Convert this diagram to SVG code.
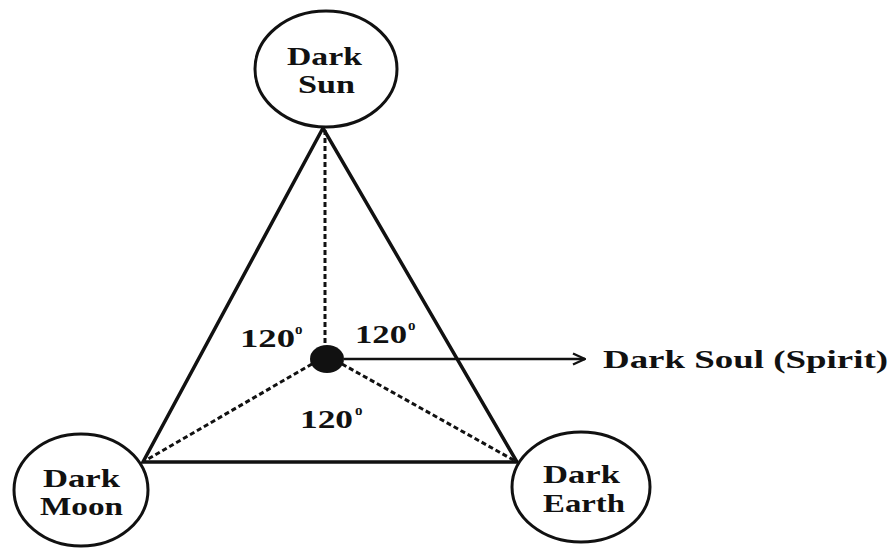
<svg xmlns="http://www.w3.org/2000/svg" width="896" height="548" viewBox="0 0 896 548">
<style>
.node{fill:#fff;stroke:#111;stroke-width:3}
.t{font-family:"Liberation Serif","Times New Roman",serif;font-weight:bold;font-size:26px;fill:#111}
.solid{stroke:#111;stroke-width:3.5;fill:none}
.dash{stroke:#111;stroke-width:3;fill:none;stroke-dasharray:5 3}
.sup{font-size:15px}
</style>
<defs>
<marker id="arr" viewBox="0 0 14 14" refX="13" refY="7" markerWidth="14" markerHeight="14" markerUnits="userSpaceOnUse" orient="auto">
<path d="M1,1.5 L13,7 L1,12.5" fill="none" stroke="#111" stroke-width="2.4"/>
</marker>
</defs>
<rect width="896" height="548" fill="#fff"/>
<g id="connectors">
<path class="solid" d="M323,128 L143,462 L517,462 Z"/>
<line class="dash" x1="325" y1="130" x2="325" y2="345"/>
<line class="dash" x1="312" y1="364" x2="143" y2="462"/>
<line class="dash" x1="342" y1="364" x2="517" y2="462"/>
<line x1="344" y1="359" x2="585" y2="359" stroke="#111" stroke-width="2.5" marker-end="url(#arr)"/>
</g>
<g id="sun">
<ellipse class="node" cx="326" cy="69" rx="71" ry="58"/>
<text class="t" x="287" y="65" font-size="22" textLength="75" lengthAdjust="spacingAndGlyphs">Dark</text>
<text class="t" x="298" y="93" font-size="22" textLength="57" lengthAdjust="spacingAndGlyphs">Sun</text>
</g>
<g id="moon">
<ellipse class="node" cx="81" cy="490" rx="67" ry="56"/>
<text class="t" x="43" y="487" font-size="25" textLength="77" lengthAdjust="spacingAndGlyphs">Dark</text>
<text class="t" x="40" y="515" font-size="25" textLength="83" lengthAdjust="spacingAndGlyphs">Moon</text>
</g>
<g id="earth">
<ellipse class="node" cx="581" cy="487" rx="69" ry="55"/>
<text class="t" x="543" y="483" font-size="25" textLength="77" lengthAdjust="spacingAndGlyphs">Dark</text>
<text class="t" x="543" y="512" font-size="25" textLength="82" lengthAdjust="spacingAndGlyphs">Earth</text>
</g>
<g id="soul">
<ellipse cx="327" cy="359" rx="17" ry="14" fill="#111"/>
<text class="t" x="603" y="368" font-size="28" textLength="285" lengthAdjust="spacingAndGlyphs">Dark Soul (Spirit)</text>
</g>
<g id="angles">
<text class="t" x="240" y="347" textLength="55" lengthAdjust="spacingAndGlyphs">120</text>
<text class="t sup" x="295" y="334">o</text>
<text class="t" x="355" y="343" textLength="52" lengthAdjust="spacingAndGlyphs">120</text>
<text class="t sup" x="408" y="330">o</text>
<text class="t" x="300" y="428" textLength="53" lengthAdjust="spacingAndGlyphs">120</text>
<text class="t sup" x="355" y="415">o</text>
</g>
</svg>
